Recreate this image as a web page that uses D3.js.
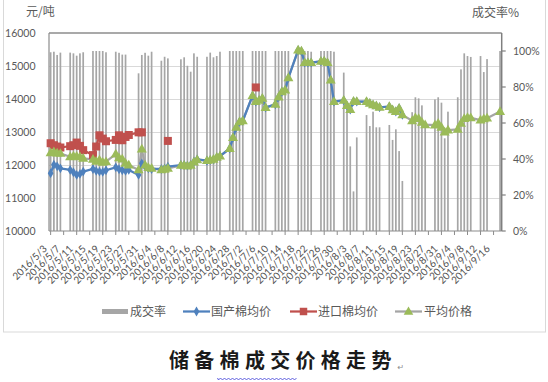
<!DOCTYPE html>
<html><head><meta charset="utf-8">
<script src="https://cdn.jsdelivr.net/npm/d3@7"></script>
<style>body{margin:0;background:#fff;} svg{display:block}</style>
</head><body>
<svg id="c" width="548" height="382"></svg>
<script>
const tradeDates = ["5/3","5/4","5/5","5/6","5/9","5/10","5/11","5/12","5/13","5/16","5/17","5/18","5/19","5/20","5/23","5/24","5/25","5/26","5/27","5/30","5/31","6/1","6/2","6/3","6/6","6/7","6/8","6/12","6/13","6/14","6/15","6/16","6/17","6/20","6/21","6/22","6/23","6/24","6/27","6/28","6/29","6/30","7/1","7/4","7/5","7/6","7/7","7/8","7/11","7/12","7/13","7/14","7/15","7/18","7/19","7/20","7/21","7/22","7/25","7/26","7/27","7/28","7/29","8/1","8/2","8/3","8/4","8/5","8/8","8/9","8/10","8/11","8/12","8/15","8/16","8/17","8/18","8/19","8/22","8/23","8/24","8/25","8/26","8/29","8/30","8/31","9/1","9/2","9/5","9/6","9/7","9/8","9/9","9/12","9/13","9/14","9/18"];
const rateVals = [99.3,99.6,97.8,99.1, 99.1,98.7,97.4,98.7,99.3, 100,100,100,100,99.3, 99.6,99,98,98,null, 87.6,97.8,99,97.4,99.6, 94.6,96.8,95.9, 95.4,96.5,91.8,88.5,98.7,96.8, 96.8,99.1,96.5,97.2,99.6, 100,100,100,100,100, 100,100,100,100,100, 100,100,100,100,100, 100,100,100,100,99.6, 100,100,100,100,99.6, 88,70,47,22,52, 64.4,58.3,66.3,57.6,57.6, 58.9,50.6,56.5,44.4,27.8, 66,74.3,73.7,69.8,60, 73.1,74.3,71.3,51.5,66.3, 74.3,89.8,98.7,97.2,96.7, 97.2,88.3,95.5, 100];
const domesticVals = [11750,12010,11960,11900, 11850,11780,11700,11730,11800, 11880,11820,11800,11790,11840, 11930,11870,11840,11820,11850, 11700,12050,11950,11900,11880, 11880,11900,11950, 12000,12000,11980,12000,12100,12170, 12130,12150,12170,12230,12270, 12500,12830,13140,13310,13340, 14100,13920,13960,14020,13740, 13840,14060,14220,14270,14640, 15480,15450,15100,15100,15100, 15140,15150,15100,14570,13920, 13960,13800,13680,13930,13920, 13920,13870,13820,13790,13750, 13770,13670,13620,13720,13520, null,null,null,null,null, null,null,null,null,null, null,null,null,null,null, null,null,null, null];
const importVals = [12660,12600,12560,12530, 12570,12600,12680,12580,12450, 12300,12560,12900,12800,12720, 12760,12900,12750,12850,12910, 12990,12990,null,null,null, null,null,12730, null,null,null,null,null,null, null,null,null,null,null, null,null,null,null,null, null,14350,null,null,null, null,null,null,null,null, null,null,null,null,null, null,null,null,null,null, null,null,null,null,null, null,null,null,null,null, null,null,null,null,null, null,null,null,null,null, null,null,null,null,null, null,null,null,null,null, null,null,null, null];
const avgVals = [12370,12400,12360,12350, 12250,12270,12260,12250,12200, 12170,12110,12150,12080,12100, 12330,12220,12180,12050,12000, 11850,12480,12000,11920,11900, 11850,11870,11900, 11990,11990,11970,11990,12090,12160, 12130,12150,12170,12230,12270, 12500,12830,13140,13310,13340, 14100,13920,13960,14020,13740, 13840,14060,14220,14270,14640, 15480,15450,15100,15100,15100, 15140,15150,15100,14570,13920, 13960,13800,13680,13930,13920, 13920,13870,13820,13790,13750, 13770,13670,13620,13720,13520, 13340,13430,13410,13290,13220, 13210,13260,13140,13000,13060, 13080,13260,13410,13440,13430, 13360,13400,13420, 13620];
const leftTicks = [10000,11000,12000,13000,14000,15000,16000];
const rightTicks = [0,20,40,60,80,100];
const xTickLabels = ["2016/5/3","2016/5/7","2016/5/11","2016/5/15","2016/5/19","2016/5/23","2016/5/27","2016/5/31","2016/6/4","2016/6/8","2016/6/12","2016/6/16","2016/6/20","2016/6/24","2016/6/28","2016/7/2","2016/7/6","2016/7/10","2016/7/14","2016/7/18","2016/7/22","2016/7/26","2016/7/30","2016/8/3","2016/8/7","2016/8/11","2016/8/15","2016/8/19","2016/8/23","2016/8/27","2016/8/31","2016/9/4","2016/9/8","2016/9/12","2016/9/16"];
const seriesNames = ["成交率","国产棉均价","进口棉均价","平均价格"];
const leftUnit = "元/吨", rightUnit = "成交率%";
const titleText = "储备棉成交价格走势";

const svg = d3.select("#c");
const FONT = "Lato, 'Noto Sans CJK SC', sans-serif";
const CJK = "'Noto Sans CJK SC', sans-serif";
const txtCol = "#595959";
const dayMs = 864e5;
const parseMD = s => { const p = s.split('/').map(Number); return new Date(Date.UTC(2016, p[0]-1, p[1])); };
const parseFull = s => { const p = s.split('/').map(Number); return new Date(Date.UTC(p[0], p[1]-1, p[2])); };
const dates = tradeDates.map(parseMD);

const L = 49, R = 501.7, T = 33, B = 231;
const x = d3.scaleUtc().domain([new Date(dates[0].getTime()-dayMs/2), new Date(dates[dates.length-1].getTime()+dayMs/2)]).range([L, R]);
const yL = d3.scaleLinear().domain([10000,16000]).range([B, T]);
const yR = d3.scaleLinear().domain([0,110]).range([B, T]);

// chart frame
svg.append("rect").attr("x",3.5).attr("y",-5).attr("width",542).attr("height",337).attr("fill","none").attr("stroke","#d9d9d9").attr("stroke-width",1);

// gridlines
svg.append("g").selectAll("line").data(leftTicks.slice(1,-1)).join("line")
  .attr("x1",L).attr("x2",R).attr("y1",d=>yL(d)+0.5).attr("y2",d=>yL(d)+0.5)
  .attr("stroke","#d9d9d9").attr("stroke-width",1);

// bars
const barData = dates.map((d,i)=>({d, v: rateVals[i]})).filter(o=>o.v!=null);
svg.append("g").selectAll("rect").data(barData).join("rect")
  .attr("x",o=>x(o.d)-0.85).attr("width",1.7)
  .attr("y",o=>yR(o.v)).attr("height",o=>B-yR(o.v))
  .attr("fill","#a6a6a6");

// plot border / axes
svg.append("line").attr("x1",L).attr("x2",R).attr("y1",T).attr("y2",T).attr("stroke","#8c8c8c").attr("stroke-width",1.5);
svg.append("line").attr("x1",L).attr("x2",L).attr("y1",T).attr("y2",B).attr("stroke","#8c8c8c").attr("stroke-width",1.2);
svg.append("line").attr("x1",R).attr("x2",R).attr("y1",T).attr("y2",B).attr("stroke","#7f7f7f").attr("stroke-width",1.5);
svg.append("line").attr("x1",L).attr("x2",R).attr("y1",B).attr("y2",B).attr("stroke","#8c8c8c").attr("stroke-width",1.2);

// left axis labels
svg.append("g").selectAll("text").data(leftTicks).join("text")
  .attr("x",35.5).attr("y",d=>yL(d)).attr("dy","0.35em").attr("text-anchor","end")
  .attr("font-family",FONT).attr("font-size",10.5).attr("fill",txtCol).text(d=>d);
// right axis ticks + labels
svg.append("g").selectAll("line").data(rightTicks).join("line")
  .attr("x1",R).attr("x2",R+4).attr("y1",d=>yR(d)).attr("y2",d=>yR(d)).attr("stroke","#7f7f7f").attr("stroke-width",1.2);
svg.append("g").selectAll("text").data(rightTicks).join("text")
  .attr("x",513).attr("y",d=>yR(d)).attr("dy","0.35em").attr("text-anchor","start")
  .attr("font-family",FONT).attr("font-size",10.5).attr("fill",txtCol).text(d=>d+"%");

// x ticks + labels
const tickDates = xTickLabels.map(parseFull);
svg.append("g").selectAll("line").data(tickDates).join("line")
  .attr("x1",d=>x(d)).attr("x2",d=>x(d)).attr("y1",B).attr("y2",B+4).attr("stroke","#8c8c8c").attr("stroke-width",1);
svg.append("g").selectAll("text").data(xTickLabels).join("text")
  .attr("transform",(s,i)=>`translate(${x(tickDates[i])-3},249.5) rotate(-45)`)
  .attr("text-anchor","end").attr("font-family",FONT).attr("font-size",10).attr("fill","#505050").text(s=>s);

// unit labels
svg.append("text").attr("x",26).attr("y",11.5).attr("dy","0.35em").attr("font-family",CJK).attr("font-size",12).attr("fill",txtCol).text(leftUnit);
svg.append("text").attr("x",472).attr("y",13).attr("dy","0.35em").attr("font-family",CJK).attr("font-size",12).attr("fill",txtCol).text(rightUnit);

// lines
const mk = vals => dates.map((d,i)=>({d, v: vals[i]}));
const lineGen = d3.line().defined(o=>o.v!=null).x(o=>x(o.d)).y(o=>yL(o.v));
const avgD = mk(avgVals), domD = mk(domesticVals), impD = mk(importVals);
svg.append("path").datum(avgD).attr("d",lineGen).attr("fill","none").attr("stroke","#a5a5a5").attr("stroke-width",2.25).attr("stroke-linejoin","round");
svg.append("path").datum(impD).attr("d",lineGen).attr("fill","none").attr("stroke","#c0504d").attr("stroke-width",2.25).attr("stroke-linejoin","round");
svg.append("path").datum(domD).attr("d",lineGen).attr("fill","none").attr("stroke","#4f81bd").attr("stroke-width",2.25).attr("stroke-linejoin","round");

const sym = (type,size) => d3.symbol().type(type).size(size)();
svg.append("g").selectAll("path").data(domD.filter(o=>o.v!=null)).join("path")
  .attr("transform",o=>`translate(${x(o.d)},${yL(o.v)})`).attr("d",sym(d3.symbolDiamond,28)).attr("fill","#4f81bd");
svg.append("g").selectAll("path").data(impD.filter(o=>o.v!=null)).join("path")
  .attr("transform",o=>`translate(${x(o.d)},${yL(o.v)})`).attr("d",sym(d3.symbolSquare,64)).attr("fill","#c0504d");
svg.append("g").selectAll("path").data(avgD.filter(o=>o.v!=null)).join("path")
  .attr("transform",o=>`translate(${x(o.d)},${yL(o.v)+0.5})`).attr("d",sym(d3.symbolTriangle,44)).attr("fill","#9bbb59");

// legend
const lg = svg.append("g").attr("font-family",CJK).attr("font-size",12).attr("fill",txtCol);
const LY = 311.5;
lg.append("rect").attr("x",102).attr("y",LY-2.5).attr("width",26).attr("height",5).attr("fill","#a6a6a6");
lg.append("text").attr("x",130).attr("y",LY).attr("dy","0.35em").text(seriesNames[0]);
lg.append("line").attr("x1",183).attr("x2",210).attr("y1",LY).attr("y2",LY).attr("stroke","#4f81bd").attr("stroke-width",2.25);
lg.append("path").attr("transform",`translate(196.5,${LY})`).attr("d",sym(d3.symbolDiamond,28)).attr("fill","#4f81bd");
lg.append("text").attr("x",211).attr("y",LY).attr("dy","0.35em").text(seriesNames[1]);
lg.append("line").attr("x1",290).attr("x2",317).attr("y1",LY).attr("y2",LY).attr("stroke","#c0504d").attr("stroke-width",2.25);
lg.append("path").attr("transform",`translate(303.5,${LY})`).attr("d",sym(d3.symbolSquare,56)).attr("fill","#c0504d");
lg.append("text").attr("x",318).attr("y",LY).attr("dy","0.35em").text(seriesNames[2]);
lg.append("line").attr("x1",395).attr("x2",422).attr("y1",LY).attr("y2",LY).attr("stroke","#a5a5a5").attr("stroke-width",2.25);
lg.append("path").attr("transform",`translate(408.5,${LY+0.5})`).attr("d",sym(d3.symbolTriangle,40)).attr("fill","#9bbb59");
lg.append("text").attr("x",424).attr("y",LY).attr("dy","0.35em").text(seriesNames[3]);

// title
svg.append("text").attr("x",169).attr("y",361).attr("dy","0.35em")
  .attr("font-family",CJK).attr("font-size",20).attr("font-weight",700).attr("letter-spacing","5.3px")
  .attr("fill","#1a1a1a").text(titleText);
svg.append("text").attr("x",397.5).attr("y",370).attr("font-family","DejaVu Sans").attr("font-size",8).attr("fill","#8c8c8c").text("↵");
// spell-check squiggle
const sq = d3.path(); sq.moveTo(217.5,378);
for (let xx=217.5; xx<297; xx+=2) { sq.lineTo(xx+1, (Math.round((xx-217.5)/2)%2===0)?380:378); }
svg.append("path").attr("d",sq.toString()).attr("fill","none").attr("stroke","#3b3bd6").attr("stroke-width",0.8);
</script>
</body></html>
